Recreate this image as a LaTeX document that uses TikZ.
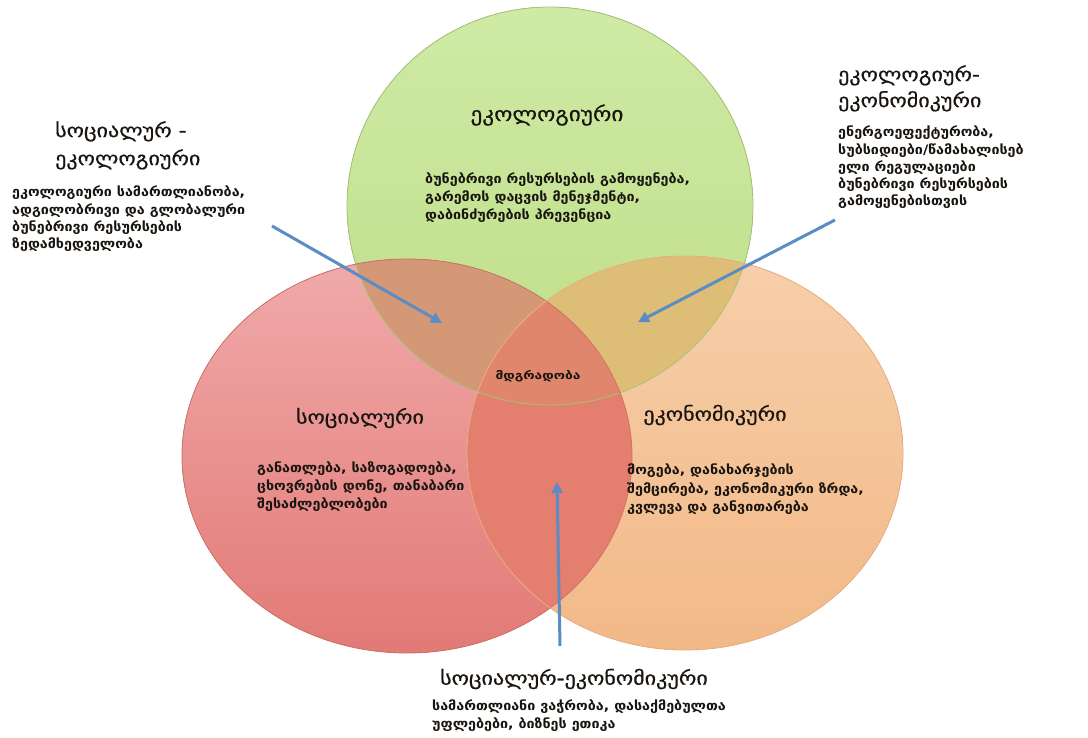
\documentclass[tikz,border=0pt]{standalone}
\usepackage{fontspec}
\newfontfamily\geot[FakeStretch=1.16,FakeBold=0.6]{DejaVu Sans}
\newfontfamily\geob[FakeStretch=1.1]{DejaVu Sans}
\newfontfamily\geoc[FakeStretch=1.25]{DejaVu Sans}
\usetikzlibrary{arrows.meta}
\definecolor{gtop}{RGB}{207,234,165}
\definecolor{gbot}{RGB}{190,222,135}
\definecolor{rtop}{RGB}{240,170,170}
\definecolor{rbot}{RGB}{226,122,118}
\definecolor{otop}{RGB}{247,207,170}
\definecolor{obot}{RGB}{242,185,135}
\definecolor{rgcol}{RGB}{212,152,118}
\definecolor{gocol}{RGB}{222,190,118}
\definecolor{rocol}{RGB}{228,126,110}
\definecolor{rgocol}{RGB}{224,134,108}
\definecolor{gline}{RGB}{165,195,120}
\definecolor{rline}{RGB}{205,115,105}
\definecolor{oline}{RGB}{235,175,130}
\definecolor{arrowblue}{RGB}{92,140,196}
\definecolor{txt}{RGB}{25,20,15}
\begin{document}
\begin{tikzpicture}[x=1pt,y=-1pt,
  ttl/.style={font=\geot\fontsize{19}{28}\selectfont, text=txt, inner sep=0pt, align=left},
  body/.style={font=\geob\bfseries\fontsize{13}{18}\selectfont, text=txt, align=left, anchor=north west, inner sep=0pt},
  arr/.style={draw=arrowblue, line width=3pt, -{Triangle[length=11pt,width=11pt]}}]
\useasboundingbox (0,0) rectangle (1088,738);
\fill[white] (0,0) rectangle (1088,738);
% circles
\fill[top color=gtop, bottom color=gbot] (550,206) ellipse [x radius=203pt, y radius=199pt];
\fill[top color=rtop, bottom color=rbot] (407,456) ellipse [x radius=225pt, y radius=197pt];
\fill[top color=otop, bottom color=obot] (685,453) ellipse [x radius=218pt, y radius=197pt];
\begin{scope}
  \clip (550,206) ellipse [x radius=203pt, y radius=199pt];
  \fill[rgcol] (407,456) ellipse [x radius=225pt, y radius=197pt];
  \fill[gocol] (685,453) ellipse [x radius=218pt, y radius=197pt];
\end{scope}
\begin{scope}
  \clip (407,456) ellipse [x radius=225pt, y radius=197pt];
  \fill[rocol] (685,453) ellipse [x radius=218pt, y radius=197pt];
  \clip (550,206) ellipse [x radius=203pt, y radius=199pt];
  \fill[rgocol] (685,453) ellipse [x radius=218pt, y radius=197pt];
\end{scope}
\draw[gline, line width=0.8pt] (550,206) ellipse [x radius=203pt, y radius=199pt];
\draw[rline, line width=0.8pt] (407,456) ellipse [x radius=225pt, y radius=197pt];
\draw[oline, line width=0.8pt] (685,453) ellipse [x radius=218pt, y radius=197pt];
% texts
\node[ttl, font=\geot\fontsize{20}{28}\selectfont] (tg) at (547,115) {ეკოლოგიური};
\node[body] (bg) at (425,173) {ბუნებრივი რესურსების გამოყენება,\\გარემოს დაცვის მენეჯმენტი,\\დაბინძურების პრევენცია};
\node[ttl, anchor=north west] (tse) at (55,121) {სოციალურ -\\ეკოლოგიური};
\node[body, font=\geob\bfseries\fontsize{13}{17.3}\selectfont] (bse) at (12,186) {ეკოლოგიური სამართლიანობა,\\ადგილობრივი და გლობალური\\ბუნებრივი რესურსების\\ზედამხედველობა};
\node[ttl, anchor=north west, font=\geot\fontsize{19}{26}\selectfont] (tee) at (838,65) {ეკოლოგიურ-\\ეკონომიკური};
\node[body, font=\geob\bfseries\fontsize{13}{17.2}\selectfont] (bee) at (838,126) {ენერგოეფექტურობა,\\სუბსიდიები/წამახალისებ\\ელი რეგულაციები\\ბუნებრივი რესურსების\\გამოყენებისთვის};
\node[font=\geoc\bfseries\fontsize{11}{13}\selectfont, text=txt, inner sep=0pt] (md) at (538,376) {მდგრადობა};
\node[ttl] (ts) at (360,418) {სოციალური};
\node[body] (bs) at (257,462) {განათლება, საზოგადოება,\\ცხოვრების დონე, თანაბარი\\შესაძლებლობები};
\node[ttl] (te) at (715,415) {ეკონომიკური};
\node[body, font=\geob\bfseries\fontsize{13}{18.5}\selectfont] (be) at (627,464) {მოგება, დანახარჯების\\შემცირება, ეკონომიკური ზრდა,\\კვლევა და განვითარება};
\node[ttl] (tse2) at (574,679) {სოციალურ-ეკონომიკური};
\node[body] (bse2) at (432,700) {სამართლიანი ვაჭრობა, დასაქმებულთა\\უფლებები, ბიზნეს ეთიკა};
% arrows
\coordinate (la1) at (272,226); \coordinate (la2) at (442,323);
\coordinate (ra1) at (835,220); \coordinate (ra2) at (638,322);
\coordinate (ba1) at (560,646); \coordinate (ba2) at (557,482);
\draw[arr] (la1) -- (la2);
\draw[arr] (ra1) -- (ra2);
\draw[arr] (ba1) -- (ba2);
\end{tikzpicture}
\end{document}
